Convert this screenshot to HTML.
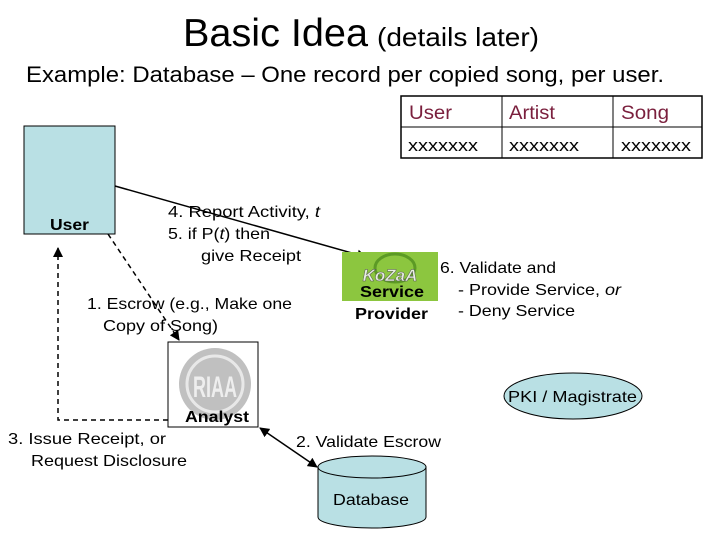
<!DOCTYPE html>
<html><head><style>
body{margin:0;width:720px;height:540px;background:#fff;overflow:hidden;font-family:"Liberation Sans",sans-serif;}
svg text{font-family:"Liberation Sans",sans-serif;}
</style></head><body>
<svg width="720" height="540" xmlns="http://www.w3.org/2000/svg">
<defs>
<marker id="a" markerWidth="10" markerHeight="10" refX="9" refY="5" orient="auto" markerUnits="userSpaceOnUse"><path d="M0,0 L10,5 L0,10 z" fill="#000"/></marker>
<marker id="b" markerWidth="10" markerHeight="10" refX="1" refY="5" orient="auto" markerUnits="userSpaceOnUse"><path d="M10,0 L0,5 L10,10 z" fill="#000"/></marker>
</defs>
<text x="183" y="46" font-size="39" textLength="185" lengthAdjust="spacingAndGlyphs">Basic Idea</text>
<text x="377" y="46" font-size="26" textLength="162" lengthAdjust="spacingAndGlyphs">(details later)</text>
<text x="26" y="82" font-size="22" textLength="638" lengthAdjust="spacingAndGlyphs">Example: Database – One record per copied song, per user.</text>
<rect x="401" y="96" width="301" height="62" fill="none" stroke="#000" stroke-width="1.5"/>
<line x1="401" y1="127" x2="702" y2="127" stroke="#000"/>
<line x1="502" y1="96" x2="502" y2="158" stroke="#000"/>
<line x1="613" y1="96" x2="613" y2="158" stroke="#000"/>
<g fill="#7a1f3d" font-size="19"><text x="409" y="119" textLength="43" lengthAdjust="spacingAndGlyphs">User</text><text x="509" y="119" textLength="46" lengthAdjust="spacingAndGlyphs">Artist</text><text x="621" y="119" textLength="48" lengthAdjust="spacingAndGlyphs">Song</text></g>
<g font-size="17"><text x="408" y="151" textLength="70" lengthAdjust="spacingAndGlyphs">xxxxxxx</text><text x="509" y="151" textLength="70" lengthAdjust="spacingAndGlyphs">xxxxxxx</text><text x="621" y="151" textLength="70" lengthAdjust="spacingAndGlyphs">xxxxxxx</text></g>
<rect x="24" y="126" width="91" height="108" fill="#b9e0e4" stroke="#000"/>
<text x="50" y="230" font-size="16" font-weight="bold" textLength="39" lengthAdjust="spacingAndGlyphs">User</text>
<line x1="115" y1="186" x2="366" y2="257" stroke="#000" stroke-width="1.5" marker-end="url(#a)"/>
<g font-size="16">
<text x="168" y="217" textLength="152" lengthAdjust="spacingAndGlyphs">4. Report Activity, <tspan font-style="italic">t</tspan></text>
<text x="168" y="239" textLength="102" lengthAdjust="spacingAndGlyphs">5. if P(<tspan font-style="italic">t</tspan>) then</text>
<text x="201" y="261" textLength="100" lengthAdjust="spacingAndGlyphs">give Receipt</text>
</g>
<rect x="342" y="252" width="96" height="49" fill="#8cc63f"/>
<ellipse cx="395" cy="268" rx="20" ry="14" fill="none" stroke="#5c9a25" stroke-width="3"/>
<text x="390" y="281" font-size="17" font-weight="bold" font-style="italic" fill="#e8f0e0" text-anchor="middle" stroke="#555" stroke-width="0.5">KoZaA</text>
<text x="360" y="297" font-size="16" font-weight="bold" textLength="64" lengthAdjust="spacingAndGlyphs">Service</text>
<text x="355" y="319" font-size="16" font-weight="bold" textLength="73" lengthAdjust="spacingAndGlyphs">Provider</text>
<g font-size="16">
<text x="440" y="273" textLength="116" lengthAdjust="spacingAndGlyphs">6. Validate and</text>
<text x="458" y="295" textLength="163" lengthAdjust="spacingAndGlyphs">- Provide Service, <tspan font-style="italic">or</tspan></text>
<text x="458" y="316" textLength="117" lengthAdjust="spacingAndGlyphs">- Deny Service</text>
</g>
<line x1="108" y1="234" x2="179" y2="340" stroke="#000" stroke-width="1.5" stroke-dasharray="5,4" marker-end="url(#a)"/>
<text x="87" y="309" font-size="16" textLength="205" lengthAdjust="spacingAndGlyphs">1. Escrow (e.g., Make one</text>
<text x="103" y="331" font-size="16" textLength="115" lengthAdjust="spacingAndGlyphs">Copy of Song)</text>
<rect x="168" y="342" width="90" height="85" fill="#fff" stroke="#000"/>
<circle cx="215" cy="384" r="36" fill="#c0c0c0"/>
<circle cx="215" cy="384" r="28" fill="none" stroke="#e8e8e8" stroke-width="3"/>
<text x="215" y="397" font-size="30" fill="#eee" text-anchor="middle" font-weight="bold" textLength="44" lengthAdjust="spacingAndGlyphs">RIAA</text>
<text x="185" y="422" font-size="16" font-weight="bold" textLength="64" lengthAdjust="spacingAndGlyphs">Analyst</text>
<polyline points="168,420 58,420 58,248" fill="none" stroke="#000" stroke-width="1.5" stroke-dasharray="5,4" marker-end="url(#a)"/>
<text x="8" y="444" font-size="16" textLength="158" lengthAdjust="spacingAndGlyphs">3. Issue Receipt, or</text>
<text x="31" y="466" font-size="16" textLength="156" lengthAdjust="spacingAndGlyphs">Request Disclosure</text>
<line x1="260" y1="428" x2="317" y2="467" stroke="#000" stroke-width="1.5" marker-start="url(#b)" marker-end="url(#a)"/>
<text x="296" y="447" font-size="16" textLength="145" lengthAdjust="spacingAndGlyphs">2. Validate Escrow</text>
<path d="M318,467 L318,517 A54,11 0 0 0 426,517 L426,467" fill="#b9e0e4" stroke="#000"/>
<ellipse cx="372" cy="467" rx="54" ry="11" fill="#b9e0e4" stroke="#000"/>
<text x="333" y="505" font-size="16" textLength="76" lengthAdjust="spacingAndGlyphs">Database</text>
<ellipse cx="573" cy="396" rx="69" ry="23" fill="#b9e0e4" stroke="#000"/>
<text x="508" y="402" font-size="16" textLength="129" lengthAdjust="spacingAndGlyphs">PKI / Magistrate</text>
</svg>
</body></html>
